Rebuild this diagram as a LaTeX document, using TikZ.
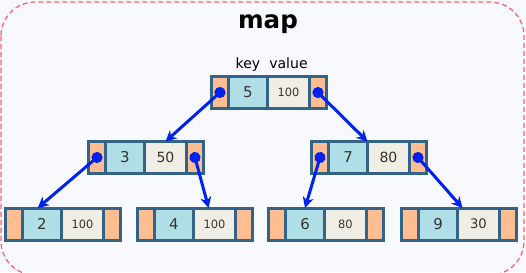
\documentclass[tikz,border=0pt]{standalone}
\usepackage{fontspec}
\setmainfont{DejaVu Sans}
\usetikzlibrary{positioning,arrows.meta}

\definecolor{bgfill}{RGB}{248,249,255}
\definecolor{dashred}{RGB}{255,95,105}
\definecolor{frame}{RGB}{51,100,135}
\definecolor{sidefill}{RGB}{255,190,145}
\definecolor{keyfill}{RGB}{176,222,230}
\definecolor{valfill}{RGB}{240,238,228}
\definecolor{linkblue}{RGB}{0,34,238}

\begin{document}
\begin{tikzpicture}[
  x=0.02cm, y=-0.02cm,
  cell/.style={draw=frame,line width=0.06cm,outer sep=0pt,inner sep=0pt,
    minimum height=0.64cm,text=black!80},
  side/.style={cell,fill=sidefill,minimum width=0.34cm},
  keycell/.style={cell,fill=keyfill,minimum width=0.78cm,
    font=\fontsize{8.5}{10}\selectfont},
  valcell/.style={cell,fill=valfill,minimum width=0.84cm},
  link/.style={draw=linkblue,line width=0.6mm,shorten <=-1.1mm,
    {Circle[length=2.2mm]}-{Stealth[length=2.2mm,width=2.2mm]}},
  caption/.style={font=\fontsize{8}{9}\selectfont,text=black,inner sep=1pt,
    text height=1.6ex,text depth=.4ex}
]
\useasboundingbox (0,0) rectangle (526,272);
\clip (0,0) rectangle (526,272);
\fill[bgfill] (0,0) rectangle (526,272);
\draw[dashred,line width=0.025cm,dash pattern=on 0.1cm off 0.06cm,
  rounded corners=0.68cm] (1,2) rectangle (524,275);

\node[font=\fontsize{14}{16}\selectfont\bfseries] (title) at (268,24) {map};

% records: left side, key, value, right side
\foreach \n/\x/\y/\k/\v/\s in {k5/220/92.5/5/100/6.5, k3/97/157.5/3/50/8,
    k7/320/157.5/7/80/8, k2/14/224/2/100/6.5, k4/146/224/4/100/6.5,
    k6/277/224/6/80/6.5, k9/410/224/9/30/7.5}{
  \node[side] (\n-l) at (\x,\y) {};
  \node[keycell,right=0pt of \n-l] (\n-k) {\k};
  \node[valcell,right=0pt of \n-k,font=\fontsize{\s}{9}\selectfont] (\n-v) {\v};
  \node[side,right=0pt of \n-v] (\n-r) {};
}

\node[caption,above=1pt of k5-k] (keylabel) {key};
\node[caption,above=1pt of k5-v] (valuelabel) {value};

\draw[link] (k5-l.center) -- (k3-v.north);
\draw[link] (k5-r.center) -- (k7-k.north east);
\draw[link] (k3-l.center) -- (k2-k.105);
\draw[link] (k3-r.center) -- (k4-v.110);
\draw[link] (k7-l.center) -- (k6-k.north);
\draw[link] (k7-r.center) -- (k9-v.135);
\end{tikzpicture}
\end{document}
